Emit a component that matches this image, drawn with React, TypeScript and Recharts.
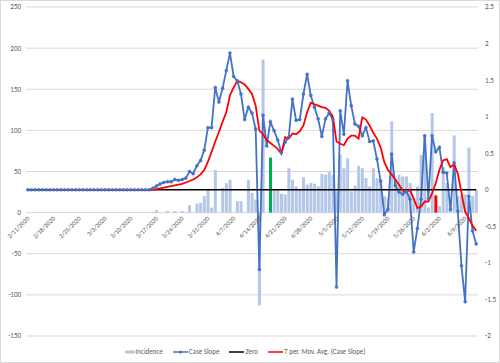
import { ComposedChart, Bar, Line, XAxis, YAxis, CartesianGrid, Legend, Cell } from "recharts";

// daily categories from 2/11/2020 (123 days)
const START = new Date(2020, 1, 11);
const DAYS = 123;
const dates: string[] = [];
for (let i = 0; i < DAYS; i++) {
  const d = new Date(START.getFullYear(), START.getMonth(), START.getDate() + i);
  dates.push(`${d.getMonth() + 1}/${d.getDate()}/${d.getFullYear()}`);
}

const zeros34 = Array(34).fill(0);

// left axis
const incidence = [
  ...zeros34,
  1, 3, 0, 0, 2, 0, 2, 0, 2, 0, 9, 0, 11, 12, 20, 29, 6, 52, 0, 30,
  36, 40, 0, 14, 14, 0, 40, 24, 16, -113, 186, 0, 67, 27, 28, 23, 22, 54, 40, 32,
  28, 43, 34, 36, 35, 32, 47, 46, 50, 46, 26, 70, 54, 66, 26, 33, 57, 54, 42, 32,
  54, 42, 40, 20, 18, 111, 40, 46, 44, 44, 36, 17, 32, 70, 94, 6, 121, 21, 8, 55,
  36, 12, 94, 20, 22, 22, 79, 20, 28,
];

// right axis
const caseSlope = [
  ...zeros34,
  0.02, 0.05, 0.08, 0.1, 0.11, 0.11, 0.14, 0.13, 0.14, 0.16, 0.25, 0.22, 0.33, 0.4, 0.54, 0.85, 0.85, 1.4, 1.2, 1.39,
  1.63, 1.87, 1.55, 1.49, 1.31, 0.96, 1.13, 1.05, 0.83, -1.09, 1.02, 0.6, 0.93, 0.81, 0.68, 0.51, 0.65, 0.72, 1.24, 0.95,
  0.96, 1.31, 1.58, 1.29, 1.13, 0.97, 0.73, 0.97, 1.05, 0.96, -1.33, 1.08, 0.76, 1.49, 1.15, 0.9, 0.87, 0.74, 0.85, 0.66,
  0.67, 0.42, 0.12, -0.34, -0.27, 0.49, 0.06, -0.03, -0.06, -0.02, -0.13, -0.85, -0.53, -0.13, 0.74, -0.12, 0.74, 0.52, 0.58, 0.24,
  0.23, -0.27, 0.37, -0.29, -1.04, -1.53, -0.09, -0.56, -0.74,
];

const movAvg = [
  null, null, null, null, null, null, 0, 0, 0, 0, 0, 0, 0, 0, 0, 0, 0, 0, 0, 0,
  0, 0, 0, 0, 0, 0, 0, 0, 0, 0, 0, 0, 0, 0,
  0, 0.01, 0.02, 0.03, 0.04, 0.05, 0.06, 0.07, 0.08, 0.1, 0.12, 0.14, 0.17, 0.21, 0.27, 0.38, 0.52, 0.66, 0.79, 0.93,
  1.06, 1.29, 1.4, 1.49, 1.47, 1.44, 1.38, 1.31, 1.15, 0.81, 0.76, 0.68, 0.64, 0.6, 0.56, 0.49, 0.72, 0.7, 0.77, 0.76,
  0.8, 0.88, 1.06, 1.19, 1.17, 1.15, 1.13, 1.12, 1.08, 1.0, 0.66, 0.63, 0.61, 0.7, 0.74, 0.74, 0.7, 0.99, 0.96, 0.88,
  0.78, 0.7, 0.58, 0.38, 0.27, 0.21, 0.14, 0.07, -0.01, -0.03, 0.0, -0.12, -0.25, -0.23, -0.16, -0.16, -0.05, 0.09, 0.27, 0.4,
  0.42, 0.31, 0.35, 0.22, -0.04, -0.3, -0.39, -0.49, -0.56,
];

const zeroLine = Array(DAYS).fill(0);

const leftTicks = [-150, -100, -50, 0, 50, 100, 150, 200, 250];
const rightTicks = [-2, -1.5, -1, -0.5, 0, 0.5, 1, 1.5, 2, 2.5];

const GREEN_DAY = "4/17/2020";
const RED_DAY = "6/1/2020";

const data = dates.map((date, i) => ({
  date,
  incidence: incidence[i],
  caseSlope: caseSlope[i],
  zero: zeroLine[i],
  movAvg: movAvg[i],
}));

const FONT = "Calibri, Carlito, 'Liberation Sans', Arial, sans-serif";
const TEXT = "#595959";
const ZERO_SHIFT = 124; // distance from plot bottom up to left-axis 0

function DateTick(props: any) {
  const { x, y, payload } = props;
  const ty = y - ZERO_SHIFT + 7;
  return (
    <g>
      <text
        x={x + 2}
        y={ty}
        transform={`rotate(-45, ${x + 2}, ${ty})`}
        textAnchor="end"
        fontSize={6.5}
        fill={TEXT}
        fontFamily={FONT}
      >
        {payload.value}
      </text>
    </g>
  );
}

function LegendBox() {
  const item = (icon: any, label: string) => (
    <span style={{ display: "inline-flex", alignItems: "center", marginRight: 10 }}>
      {icon}
      <span style={{ marginLeft: 1 }}>{label}</span>
    </span>
  );
  return (
    <div
      style={{
        display: "flex",
        justifyContent: "center",
        alignItems: "center",
        fontSize: 7,
        fontFamily: FONT,
        color: TEXT,
        height: 25,
        paddingTop: 4,
        boxSizing: "border-box",
      }}
    >
      {item(
        <svg width={10} height={6}><rect x={0} y={1.5} width={10} height={3} fill="#B4C7E7" /></svg>,
        "Incidence"
      )}
      {item(
        <svg width={15} height={6}>
          <line x1={0} y1={3} x2={15} y2={3} stroke="#4472C4" strokeWidth={1.5} />
          <circle cx={7.5} cy={3} r={1.6} fill="#4472C4" />
        </svg>,
        "Case Slope"
      )}
      {item(
        <svg width={15} height={6}><line x1={0} y1={3} x2={15} y2={3} stroke="#000" strokeWidth={1.5} /></svg>,
        "Zero"
      )}
      {item(
        <svg width={15} height={6}><line x1={0} y1={3} x2={15} y2={3} stroke="#FF0000" strokeWidth={1.5} /></svg>,
        "7 per. Mov. Avg. (Case Slope)"
      )}
    </div>
  );
}

export default function App() {
  return (
    <div
      style={{
        position: "absolute",
        left: 0,
        top: 0,
        width: 500,
        height: 363,
        border: "1px solid #D9D9D9",
        boxSizing: "border-box",
        background: "#fff",
      }}
    >
      <ComposedChart
        width={498}
        height={361}
        data={data}
        margin={{ top: 6, right: 0, bottom: 0, left: 0 }}
        barCategoryGap="12%"
      >
        <CartesianGrid yAxisId="left" vertical={false} stroke="#D9D9D9" />
        <XAxis
          dataKey="date"
          interval={6}
          height={1}
          tickLine={false}
          axisLine={false}
          tickSize={0}
          tickMargin={0}
          tick={DateTick}
        />
        <YAxis
          yAxisId="left"
          domain={[-150, 250]}
          ticks={leftTicks}
          width={25}
          tickLine={false}
          axisLine={false}
          tickSize={3}
          tickMargin={2}
          tick={{ fontSize: 7, fill: TEXT, fontFamily: FONT }}
        />
        <YAxis
          yAxisId="right"
          orientation="right"
          domain={[-2, 2.5]}
          ticks={rightTicks}
          width={21}
          tickLine={false}
          axisLine={false}
          tickSize={3}
          tickMargin={4}
          tick={{ fontSize: 7, fill: TEXT, fontFamily: FONT, textAnchor: "start" }}
        />
        <Legend verticalAlign="bottom" height={25} content={<LegendBox />} />
        <Bar yAxisId="left" dataKey="incidence" name="Incidence" fill="#B4C7E7" isAnimationActive={false}>
          {data.map((d, i) => (
            <Cell
              key={`c-${i}`}
              fill={d.date === GREEN_DAY ? "#00B050" : d.date === RED_DAY ? "#FF0000" : "#B4C7E7"}
            />
          ))}
        </Bar>
        <Line
          yAxisId="right"
          type="linear"
          dataKey="caseSlope"
          name="Case Slope"
          stroke="#4472C4"
          strokeWidth={1.8}
          dot={{ r: 1.5, fill: "#4472C4", stroke: "#4472C4", strokeWidth: 0.5 }}
          isAnimationActive={false}
        />
        <Line
          yAxisId="right"
          type="linear"
          dataKey="zero"
          name="Zero"
          stroke="#000000"
          strokeWidth={1.5}
          dot={false}
          isAnimationActive={false}
        />
        <Line
          yAxisId="right"
          type="linear"
          dataKey="movAvg"
          name="7 per. Mov. Avg. (Case Slope)"
          stroke="#FF0000"
          strokeWidth={1.8}
          dot={false}
          connectNulls={false}
          isAnimationActive={false}
        />
      </ComposedChart>
    </div>
  );
}
